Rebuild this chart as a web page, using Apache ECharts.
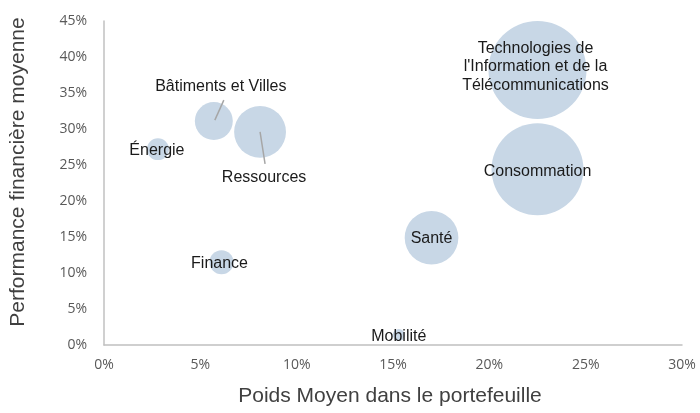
<!DOCTYPE html>
<html>
<head>
<meta charset="utf-8">
<script src="https://cdn.jsdelivr.net/npm/echarts@6/dist/echarts.min.js"></script>
<style>
  html, body { margin: 0; padding: 0; background: #fff; }
  #chart { width: 700px; height: 413px; }
</style>
</head>
<body>
<div id="chart"></div>
<script>
// secteurs, poids moyen (%), performance moyenne (%), taille relative de la bulle
const secteurs = ['Énergie', 'Bâtiments et Villes', 'Ressources', 'Finance', 'Mobilité', 'Santé', 'Consommation', "Technologies de\nl'Information et de la\nTélécommunications"];
const poids = [2.8, 5.7, 8.1, 6.1, 15.3, 17.0, 22.5, 22.5];
const performance = [27.2, 31.1, 29.6, 11.5, 1.4, 14.9, 24.4, 38.2];
const taille = [5, 15, 28, 6, 1.5, 30, 88, 100];
const xTicks = [0, 5, 10, 15, 20, 25, 30];
const yTicks = [0, 5, 10, 15, 20, 25, 30, 35, 40, 45];

// décalage des étiquettes (px) et lignes de rappel (px, depuis le centre de la bulle)
const labelOffsets = [[-1, 1], [7, -34], [4, 46], [-2, 1], [0, 2], [0, 1], [0, 2], [-2, -3]];
const rappels = [null, [[1, -1], [10, -21]], [[0, 0], [5, 32]], null, null, null, null, null];

const chart = echarts.init(document.getElementById('chart'));

const data = secteurs.map((nom, i) => ({
  name: nom,
  value: [poids[i], performance[i], taille[i]],
  label: { offset: labelOffsets[i] }
}));

const lignes = secteurs.map((nom, i) => [poids[i], performance[i], i]).filter(d => rappels[d[2]]);

const titre = { fontFamily: 'Liberation Sans', fontSize: 21, color: '#404040' };
const graduation = { formatter: v => v + '%', fontFamily: 'Open Sans', fontSize: 14, color: '#595959' };

chart.setOption({
  animation: false,
  grid: { left: 100, right: 18, top: 21, bottom: 68 },
  xAxis: {
    type: 'value',
    min: xTicks[0],
    max: xTicks[xTicks.length - 1],
    interval: 5,
    name: 'Poids Moyen dans le portefeuille',
    nameLocation: 'middle',
    nameGap: 41,
    nameTextStyle: Object.assign({ padding: [0, 6, 0, 0] }, titre),
    axisLine: { show: true, lineStyle: { color: '#c0c0c0', width: 1.5 } },
    axisTick: { show: false },
    splitLine: { show: false },
    axisLabel: Object.assign({ margin: 13 }, graduation)
  },
  yAxis: {
    type: 'value',
    min: yTicks[0],
    max: yTicks[yTicks.length - 1],
    interval: 5,
    name: 'Performance financière moyenne',
    nameLocation: 'middle',
    nameGap: 75,
    nameTextStyle: Object.assign({ padding: [0, 0, 0, 22] }, titre),
    axisLine: { show: true, lineStyle: { color: '#c0c0c0', width: 1.5 } },
    axisTick: { show: false },
    splitLine: { show: false },
    axisLabel: Object.assign({ margin: 17 }, graduation)
  },
  series: [{
    type: 'scatter',
    data: data,
    symbolSize: v => 98 * Math.sqrt(v[2] / 100),
    itemStyle: { color: '#c8d7e6', opacity: 1 },
    label: {
      show: true,
      position: 'inside',
      formatter: p => p.name,
      fontFamily: 'Liberation Sans',
      fontSize: 16,
      lineHeight: 18.5,
      color: '#1a1a1a',
      align: 'center'
    }
  }, {
    type: 'custom',
    z: 3,
    silent: true,
    data: lignes,
    renderItem: (params, api) => {
      const c = api.coord([api.value(0), api.value(1)]);
      const r = rappels[api.value(2)];
      return {
        type: 'line',
        shape: { x1: c[0] + r[0][0], y1: c[1] + r[0][1], x2: c[0] + r[1][0], y2: c[1] + r[1][1] },
        style: { stroke: '#a6a6a6', lineWidth: 1.5 }
      };
    }
  }]
});
</script>
</body>
</html>
